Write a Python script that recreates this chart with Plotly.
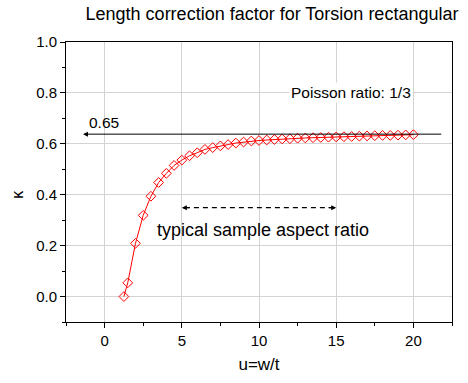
import plotly.graph_objects as go

u_vals = [1.25, 1.5, 2.0, 2.5, 3.0, 3.5, 4.0, 4.5, 5.0, 5.5, 6.0, 6.5, 7.0, 7.5, 8.0, 8.5,
          9.0, 9.5, 10.0, 10.5, 11.0, 11.5, 12.0, 12.5, 13.0, 13.5, 14.0, 14.5, 15.0,
          15.5, 16.0, 16.5, 17.0, 17.5, 18.0, 18.5, 19.0, 19.5, 20.0]
kappa_vals = [0.000, 0.054, 0.209, 0.319, 0.394, 0.448, 0.484, 0.515, 0.536, 0.553, 0.565,
              0.578, 0.585, 0.592, 0.597, 0.603, 0.607, 0.611, 0.613, 0.615, 0.617, 0.619,
              0.620, 0.622, 0.623, 0.624, 0.625, 0.626, 0.627, 0.628, 0.629, 0.630, 0.631,
              0.632, 0.633, 0.633, 0.634, 0.635, 0.636]

ref_level = 0.638
ref_label = "0.65"
ref_x_range = [21.9, -1.4]
typ_range = [5, 15]
typ_y = 0.349

FONT = "Arial, Liberation Sans, sans-serif"

fig = go.Figure()
fig.add_trace(go.Scatter(
    x=u_vals, y=kappa_vals, mode="lines+markers",
    line=dict(color="#ff0000", width=1),
    marker=dict(symbol="diamond-open", size=7.5, color="#ff0000", line=dict(width=1)),
    showlegend=False,
))

# dashed double arrow
fig.add_shape(type="line", x0=typ_range[0] + 0.2, x1=typ_range[1] - 0.2, y0=typ_y, y1=typ_y,
              xref="x", yref="y", line=dict(color="black", width=1.3, dash="5px,4px"))
annotations = [
    dict(x=typ_range[0], y=typ_y, ax=typ_range[0] + 0.6, ay=typ_y, xref="x", yref="y",
         axref="x", ayref="y", text="", showarrow=True, arrowhead=2, arrowsize=1,
         arrowwidth=1, arrowcolor="black"),
    dict(x=typ_range[1], y=typ_y, ax=typ_range[1] - 0.6, ay=typ_y, xref="x", yref="y",
         axref="x", ayref="y", text="", showarrow=True, arrowhead=2, arrowsize=1,
         arrowwidth=1, arrowcolor="black"),
    dict(x=ref_x_range[1], y=ref_level, ax=ref_x_range[0], ay=ref_level, xref="x", yref="y",
         axref="x", ayref="y", text="", showarrow=True, arrowhead=2, arrowsize=1,
         arrowwidth=1, arrowcolor="black"),
    dict(x=-1.15, y=ref_level, xref="x", yref="y", text=ref_label, showarrow=False,
         xanchor="left", yanchor="bottom", yshift=1, font=dict(family=FONT, size=15.5, color="black")),
    dict(x=10.25, y=typ_y, xref="x", yref="y", text="typical sample aspect ratio", showarrow=False,
         xanchor="center", yanchor="top", yshift=-10, font=dict(family=FONT, size=18, color="black")),
    dict(x=15.95, y=0.802, xref="x", yref="y", text="Poisson ratio: 1/3", showarrow=False,
         xanchor="center", yanchor="middle", bgcolor="white",
         font=dict(family=FONT, size=15.5, color="black")),
    dict(x=(18 - 66) / 386, y=0.4, xref="paper", yref="y", text="κ", showarrow=False, textangle=-90,
         xanchor="center", yanchor="middle", font=dict(family=FONT, size=16, color="black")),
]

axis_common = dict(
    showline=True, linecolor="black", linewidth=1, mirror=True,
    ticks="outside", ticklen=5, tickwidth=1, tickcolor="black",
    showgrid=True, gridcolor="#d3d3d3", gridwidth=1, zeroline=False,
    tickfont=dict(family=FONT, size=15, color="black"),
)

fig.update_layout(
    width=468, height=383,
    margin=dict(l=66, r=16, t=42, b=57),
    paper_bgcolor="white", plot_bgcolor="white",
    font=dict(family=FONT, color="black"),
    title=dict(text="Length correction factor for Torsion rectangular", x=272 / 468,
               xanchor="center", y=1 - 14 / 383, yanchor="middle",
               font=dict(family=FONT, size=18, color="black")),
    xaxis=dict(range=[-2.5, 22.5], tickvals=[0, 5, 10, 15, 20],
               minor=dict(ticks="outside", ticklen=3, tickcolor="black", dtick=2.5, tick0=0, showgrid=False),
               title=dict(text="u=w/t", standoff=10, font=dict(family=FONT, size=17, color="black")),
               **axis_common),
    yaxis=dict(range=[-0.1, 1.0], tickvals=[0, 0.2, 0.4, 0.6, 0.8, 1.0], tickformat=".1f",
               minor=dict(ticks="outside", ticklen=3, tickcolor="black", dtick=0.1, tick0=0, showgrid=False),
               **axis_common),
    annotations=annotations,
)

fig.write_html("out.html")
